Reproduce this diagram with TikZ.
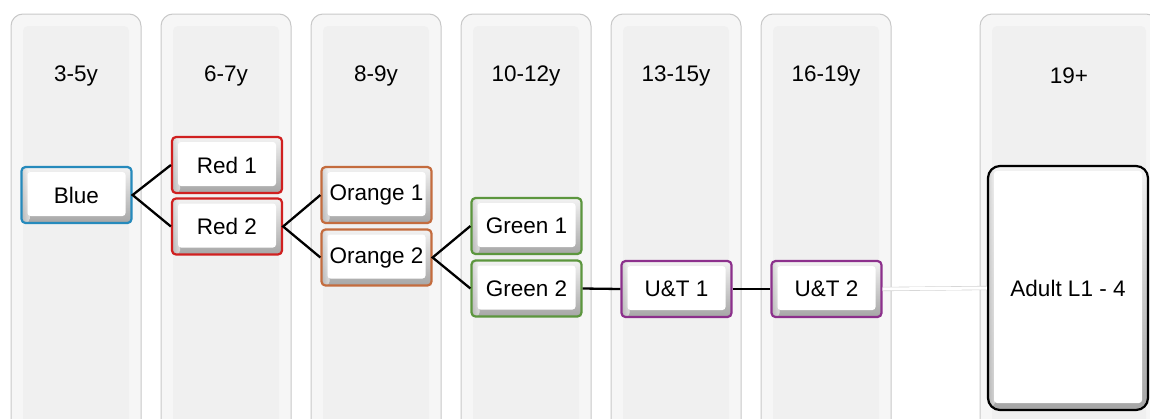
\documentclass[tikz,border=0pt]{standalone}
\usepackage{fontspec}
\setmainfont{Liberation Sans}
\usetikzlibrary{calc}

\definecolor{cblue}{RGB}{38,138,188}
\definecolor{cred}{RGB}{208,32,32}
\definecolor{corange}{RGB}{196,108,62}
\definecolor{cgreen}{RGB}{92,150,62}
\definecolor{cpurple}{RGB}{140,48,140}
\definecolor{colside}{RGB}{246,246,246}
\definecolor{colface}{RGB}{240,240,240}
\definecolor{colline}{RGB}{200,200,200}

\tikzset{
  txt/.style={font=\fontsize{22.5}{27}\selectfont, text=black},
  % bevelled level box
  lvl/.style={draw=#1, line width=2.2pt, rounded corners=4pt,
    minimum width=110pt, minimum height=56pt, inner sep=0pt, txt,
    path picture={
      \shade[top color=gray!10, bottom color=gray!70]
        (path picture bounding box.south west) rectangle (path picture bounding box.north east);
      \shade[left color=gray!50, right color=white, opacity=0.6]
        (path picture bounding box.south west) rectangle ([xshift=8pt]path picture bounding box.north west);
      \fill[white, rounded corners=3pt]
        ([shift={(6pt,-5pt)}]path picture bounding box.north west) rectangle
        ([shift={(-6pt,7pt)}]path picture bounding box.south east);
    }},
  bigbox/.style={lvl=black, rounded corners=12pt, minimum width=160pt, minimum height=244pt},
  link/.style={line width=2.3pt, black},
  faint/.style={draw=gray!35, line width=0.6pt, double=white, double distance=3pt},
  colhead/.style={txt},
}

\begin{document}
\begin{tikzpicture}[x=1pt,y=-1pt]
\useasboundingbox (0,0) rectangle (1150,418);

% age columns
\begin{scope}
  \clip (0,0) rectangle (1150,418);
  \foreach \i/\x/\w/\t in {1/11/130/3-5y, 2/161/130/6-7y, 3/311/130/8-9y,
                           4/461/130/10-12y, 5/611/130/13-15y, 6/761/130/16-19y,
                           7/980/178/19+}{
    \fill[colside, rounded corners=12pt] (\x,14) rectangle (\x+\w,440);
    \fill[colface, rounded corners=5pt] (\x+12,26) rectangle (\x+\w-12,440);
    \draw[colline, line width=1pt, rounded corners=12pt] (\x,440) -- (\x,14) -- (\x+\w,14) -- (\x+\w,440);
    \node[colhead] (col\i) at (\x+\w/2,76) {\t};
  }
\end{scope}

% level boxes
\node[lvl=cblue]   (blue)    at (76.5,195)  {Blue};
\node[lvl=cred]    (red1)    at (227,165)   {Red 1};
\node[lvl=cred]    (red2)    at (227,226.5) {Red 2};
\node[lvl=corange] (orange1) at (376.5,195) {Orange 1};
\node[lvl=corange] (orange2) at (376.5,257.5) {Orange 2};
\node[lvl=cgreen]  (green1)  at (526.5,226) {Green 1};
\node[lvl=cgreen]  (green2)  at (526.5,288.5) {Green 2};
\node[lvl=cpurple] (ut1)     at (676.5,289) {U\&T 1};
\node[lvl=cpurple] (ut2)     at (826.5,289) {U\&T 2};
\node[bigbox]      (adult)   at (1068,288)  {Adult L1 - 4};

% pathways
\draw[link] (red1.west) -- (blue.east) -- (red2.west);
\draw[link] (orange1.west) -- (red2.east) -- (orange2.west);
\draw[link] (green1.west) -- (orange2.east) -- (green2.west);
\draw[link] (green2.east) -- (ut1.west);
\draw[link] (ut1.east) -- (ut2.west);
\draw[faint] (ut2.east) -- (adult.west);
\end{tikzpicture}
\end{document}
